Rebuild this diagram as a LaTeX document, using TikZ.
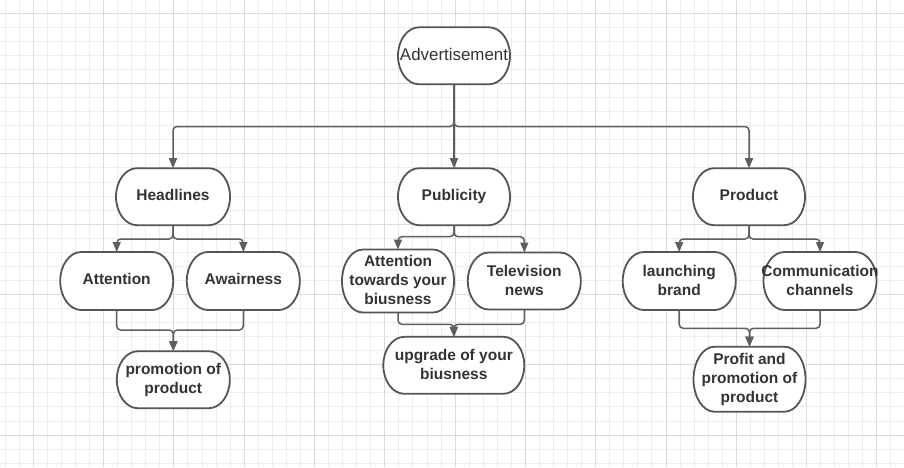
\documentclass[tikz,border=0pt]{standalone}
\usepackage{fontspec}
\setmainfont{Liberation Sans}
\usetikzlibrary{arrows.meta,calc}
\pgfdeclarelayer{gridlayer}
\pgfdeclarelayer{shapes}
\pgfsetlayers{gridlayer,shapes,main}
\definecolor{gridminor}{HTML}{EDEDED}
\definecolor{gridmajor}{HTML}{DCDCDC}
\definecolor{boxc}{HTML}{555555}
\definecolor{linec}{HTML}{5E5E5E}
\definecolor{textc}{HTML}{333333}
\begin{document}
\begin{tikzpicture}[x=1pt,y=-1pt,
  box/.style={draw=none, inner sep=0pt, outer sep=0pt},
  lbl/.style={yshift=0.3pt, inner sep=0pt, align=center, text=textc,
    font=\fontsize{15.5}{19}\selectfont\bfseries,
    execute at begin node=\strut, execute at end node=\strut},
  ml/.style={yshift=-2.3pt},
  boxshape/.style={draw=boxc, line width=1.8pt, fill=white},
  conn/.style={draw=linec, line width=1.5pt, rounded corners=4pt,
    -{Triangle[length=10pt,width=8pt]}}]
\useasboundingbox (0,0) rectangle (904,467);
\begin{pgfonlayer}{gridlayer}
\fill[white] (0,0) rectangle (904,467);
\foreach \i in {0,...,63} \draw[gridminor, line width=1pt] ({5.2+14.06*\i},0) -- ++(0,467);
\foreach \j in {0,...,32} \draw[gridminor, line width=1pt] (0,{13.3+14.06*\j}) -- ++(904,0);
\foreach \i in {0,...,12} \draw[gridmajor, line width=1pt] ({33.3+70.3*\i},0) -- ++(0,467);
\foreach \j in {0,...,6} \draw[gridmajor, line width=1pt] (0,{13.3+70.3*\j}) -- ++(904,0);
\end{pgfonlayer}

% nodes
\node[box, minimum width=112pt, minimum height=57pt,
  label={[lbl, name=advt, yshift=-1.3pt, font=\fontsize{16.9}{19}\selectfont]center:Advertisement}] (adv) at (454,55.8) {};
\node[box, minimum width=114pt, minimum height=57pt, label={[lbl, name=headt]center:Headlines}] (head) at (173,196.7) {};
\node[box, minimum width=112pt, minimum height=57pt, label={[lbl, name=pubt]center:Publicity}] (pub) at (454,196.7) {};
\node[box, minimum width=112pt, minimum height=57pt, label={[lbl, name=prodt]center:Product}] (prod) at (749,196.7) {};

\node[box, minimum width=113pt, minimum height=58pt, label={[lbl, name=attt]center:Attention}] (att) at (116.7,281) {};
\node[box, minimum width=113pt, minimum height=58pt, label={[lbl, name=awat]center:Awairness}] (awa) at (243.3,281) {};
\node[box, minimum width=113pt, minimum height=57pt, label={[lbl, ml, name=promot]center:{promotion of\\product}}] (promo) at (173.3,379.7) {};

\node[box, minimum width=112pt, minimum height=63pt, label={[lbl, ml, name=att2t]center:{Attention\\towards your\\biusness}}] (att2) at (398,281) {};
\node[box, minimum width=113pt, minimum height=57pt, label={[lbl, ml, name=tvt]center:{Television\\news}}] (tv) at (524.3,281) {};
\node[box, minimum width=141pt, minimum height=57pt, label={[lbl, ml, name=upgt]center:{upgrade of your\\biusness}}] (upg) at (453.8,365.3) {};

\node[box, minimum width=113pt, minimum height=58pt, label={[lbl, ml, name=launcht]center:{launching\\brand}}] (launch) at (679.2,281) {};
\node[box, minimum width=113pt, minimum height=58pt, label={[lbl, ml, name=commt]center:{Communication\\channels}}] (comm) at (820,281) {};
\node[box, minimum width=112pt, minimum height=65pt, label={[lbl, ml, name=profitt]center:{Profit and\\promotion of\\product}}] (profit) at (749.5,379.2) {};

% box outlines with elliptical ends
\begin{pgfonlayer}{shapes}
\foreach \nm in {adv,head,pub,prod,att,awa,promo,att2,tv,upg,launch,comm,profit}{
  \path[boxshape] let \p1=(\nm.north west), \p2=(\nm.south east), \n1={(\y1-\y2)/2} in
    (\x1+21pt,\y1) -- (\x2-21pt,\y1)
    arc[start angle=90, end angle=-90, x radius=21pt, y radius={\n1*1pt}]
    -- (\x1+21pt,\y2)
    arc[start angle=270, end angle=90, x radius=21pt, y radius={\n1*1pt}] -- cycle;
}
\end{pgfonlayer}

% bus coordinates
\coordinate (b0) at (454,126.5);
\coordinate (h1) at (173,239);
\coordinate (m1) at (173.3,330);
\coordinate (p1) at (454,236.7);
\coordinate (p2) at (453.8,324.3);
\coordinate (q1) at (749,239);
\coordinate (q2) at (749.5,328.3);

% connectors
\draw[conn] (adv.south) -- (b0) -| (head.north);
\draw[conn] (adv.south) -- (pub.north);
\draw[conn] (adv.south) -- (b0) -| (prod.north);

\draw[conn] (head.south) -- (h1) -| (att.north);
\draw[conn] (head.south) -- (h1) -| (awa.north);
\draw[conn] (att.south) |- (m1) -- (promo.north);
\draw[conn] (awa.south) |- (m1) -- (promo.north);

\draw[conn] (pub.south) -- (p1) -| (att2.north);
\draw[conn] (pub.south) -- (p1) -| (tv.north);
\draw[conn] (att2.south) |- (p2) -- (upg.north);
\draw[conn] (tv.south) |- (p2) -- (upg.north);

\draw[conn] (prod.south) -- (q1) -| (launch.north);
\draw[conn] (prod.south) -- (q1) -| (comm.north);
\draw[conn] (launch.south) |- (q2) -- (profit.north);
\draw[conn] (comm.south) |- (q2) -- (profit.north);
\end{tikzpicture}
\end{document}
